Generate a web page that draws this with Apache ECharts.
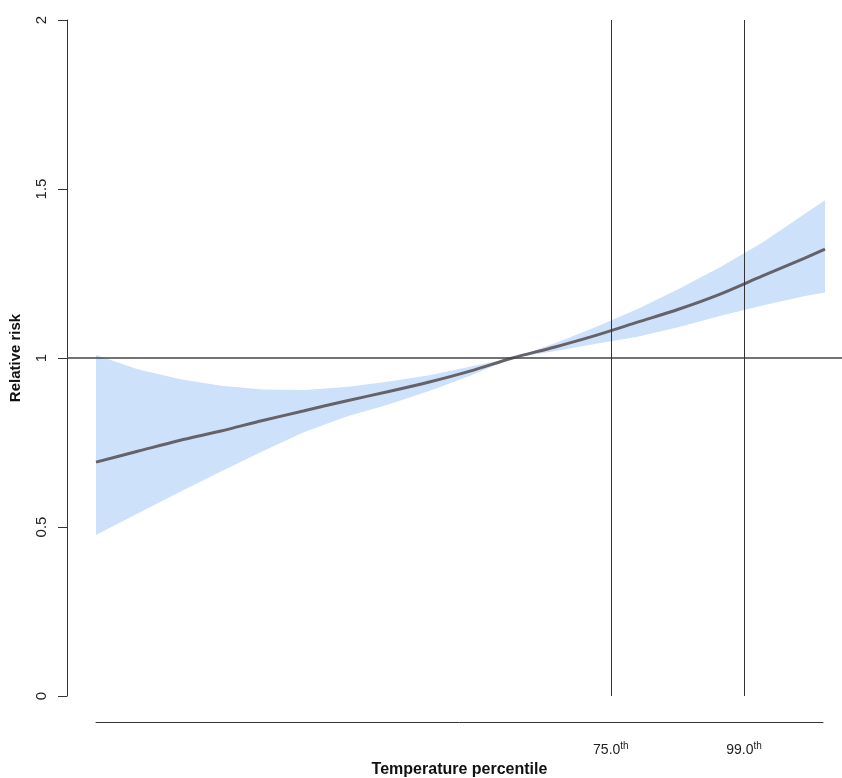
<!DOCTYPE html>
<html>
<head>
<meta charset="utf-8">
<title>Relative risk by temperature</title>
<script src="https://cdn.jsdelivr.net/npm/echarts@6/dist/echarts.min.js"></script>
<style>
  html, body { margin: 0; padding: 0; background: #fff; }
  #chart { width: 842px; height: 778px; }
</style>
</head>
<body>
<div id="chart"></div>
<script>
// Exposure-response curve: relative risk against daily mean temperature (°C)
const temps    = [0, 2, 4, 6, 8, 10, 12, 14, 16, 18, 20, 22, 24, 26, 28, 30, 32, 34, 35];
const rrCentre = [0.692, 0.724, 0.756, 0.784, 0.815, 0.844, 0.873, 0.900, 0.929, 0.962, 1.000, 1.032, 1.067, 1.106, 1.145, 1.190, 1.243, 1.295, 1.322];
const rrUpper  = [1.009, 0.967, 0.938, 0.918, 0.907, 0.905, 0.914, 0.930, 0.949, 0.975, 1.000, 1.043, 1.092, 1.145, 1.205, 1.270, 1.342, 1.425, 1.467];
const rrLower  = [0.476, 0.540, 0.603, 0.664, 0.724, 0.781, 0.826, 0.862, 0.902, 0.948, 1.000, 1.020, 1.042, 1.063, 1.092, 1.125, 1.155, 1.183, 1.194];

// Temperatures at the marked percentiles
const pctNames = ['75.0', '99.0'];
const pctTemps = [24.72, 31.11];

// Y ticks
const yTicks = [0, 0.5, 1, 1.5, 2];

const FONT = 'Liberation Sans, Arial, sans-serif';
const pairs = (ys) => temps.map((t, i) => [t, ys[i]]);

const chart = echarts.init(document.getElementById('chart'), null, { renderer: 'canvas' });

// Confidence band: upper bound left to right, then lower bound back
function renderBand(params, api) {
  const pts = [];
  for (let i = 0; i < temps.length; i++) pts.push(api.coord([temps[i], rrUpper[i]]));
  for (let i = temps.length - 1; i >= 0; i--) pts.push(api.coord([temps[i], rrLower[i]]));
  return {
    type: 'polygon',
    shape: { points: pts },
    style: { fill: '#cde1fa', stroke: null }
  };
}

chart.setOption({
  animation: false,
  backgroundColor: '#ffffff',
  grid: [
    { left: 67, right: 0, top: 20, bottom: 82 },
    { left: 96, right: 19, bottom: 55, height: 1 }
  ],
  xAxis: [
    {
      type: 'value', gridIndex: 0,
      min: -29 / (729 / 35), max: 746 / (729 / 35),
      axisLine: { show: false }, axisTick: { show: false },
      axisLabel: { show: false }, splitLine: { show: false }
    },
    {
      type: 'value', gridIndex: 1, position: 'bottom',
      min: 0, max: 727 / (729 / 35),
      name: 'Temperature percentile', nameLocation: 'middle', nameGap: 39,
      nameTextStyle: { fontFamily: FONT, fontSize: 16, fontWeight: 'bold', color: '#111' },
      axisLine: { show: true, onZero: false, lineStyle: { color: '#333', width: 1 } },
      axisTick: { show: false },
      splitLine: { show: false },
      axisLabel: {
        customValues: pctTemps,
        margin: 19,
        fontFamily: FONT, fontSize: 14, color: '#222',
        formatter: (v) => {
          const i = pctTemps.findIndex(p => Math.abs(p - v) < 1e-6);
          return i >= 0 ? pctNames[i] + '{sup|th}' : '';
        },
        rich: { sup: { fontFamily: FONT, fontSize: 10, color: '#222', verticalAlign: 'bottom', padding: [0, 0, 8, 0] } }
      }
    }
  ],
  yAxis: [
    {
      type: 'value', gridIndex: 0,
      min: 0, max: 2, interval: 0.5,
      name: 'Relative risk', nameLocation: 'middle', nameGap: 44, nameRotate: 90,
      nameTextStyle: { fontFamily: FONT, fontSize: 15, fontWeight: 'bold', color: '#111' },
      axisLine: { show: true, onZero: false, lineStyle: { color: '#333', width: 1 } },
      axisTick: { show: true, length: 9, lineStyle: { color: '#333' } },
      axisLabel: {
        rotate: 90, margin: 18, fontFamily: FONT, fontSize: 15, color: '#222',
        formatter: (v) => String(yTicks.find(t => Math.abs(t - v) < 1e-9) ?? v)
      },
      splitLine: { show: false }
    },
    { type: 'value', gridIndex: 1, show: false, min: 0, max: 1 }
  ],
  series: [
    {
      name: 'band', type: 'custom', xAxisIndex: 0, yAxisIndex: 0,
      data: [[temps[0], rrCentre[0]]], renderItem: renderBand,
      silent: true, clip: true, z: 1
    },
    {
      name: 'reference', type: 'line', xAxisIndex: 0, yAxisIndex: 0,
      data: [], symbol: 'none', z: 2,
      markLine: {
        silent: true, symbol: 'none', label: { show: false },
        data: [
          { yAxis: 1, lineStyle: { color: '#444', width: 1.5, type: 'solid' } },
          ...pctTemps.map(t => ({ xAxis: t, lineStyle: { color: '#333', width: 1, type: 'solid' } }))
        ]
      }
    },
    {
      name: 'RR', type: 'line', xAxisIndex: 0, yAxisIndex: 0,
      data: pairs(rrCentre), smooth: 0.3, symbol: 'none',
      lineStyle: { color: '#66626a', width: 3 }, z: 3
    }
  ]
});
</script>
</body>
</html>
